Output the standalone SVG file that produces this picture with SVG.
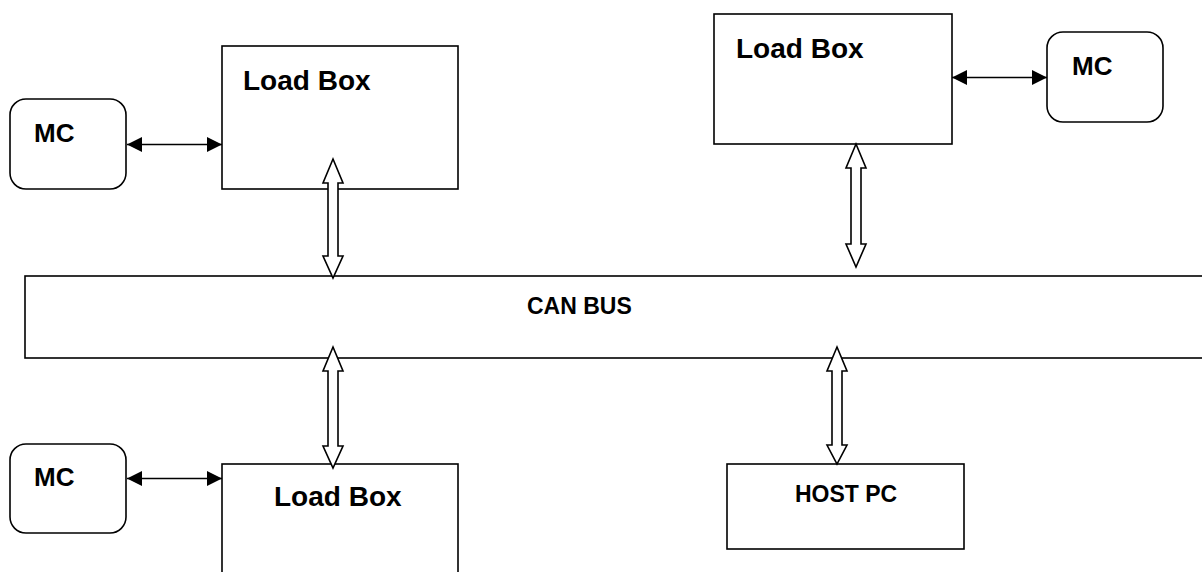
<svg xmlns="http://www.w3.org/2000/svg" width="1202" height="572" viewBox="0 0 1202 572">
<style>
.box{fill:#fff;stroke:#000;stroke-width:1.6}
.lbl{font-family:"Liberation Sans",Arial,sans-serif;font-weight:bold;fill:#000}
.big{font-size:28px}
.mc{font-size:26px}
.mid{font-size:23px}
.thin{stroke:#000;stroke-width:1.5;fill:none}
.fat{fill:#fff;stroke:#000;stroke-width:1.6;stroke-linejoin:miter}
</style>
<defs>
<marker id="ah" viewBox="0 0 15 15" refX="15" refY="7.5" markerWidth="15" markerHeight="15" markerUnits="userSpaceOnUse" orient="auto-start-reverse">
<path d="M0,0 L15,7.5 L0,15 Z" fill="#000"/>
</marker>
</defs>
<rect width="1202" height="572" fill="#fff"/>
<g id="bus">
<rect class="box" x="25" y="276" width="1190" height="82"/>
<text class="lbl mid" x="527" y="314">CAN BUS</text>
</g>
<g id="loadbox-tl">
<rect class="box" x="222" y="46" width="236" height="143"/>
<text class="lbl big" x="243" y="90">Load Box</text>
</g>
<g id="mc-tl">
<rect class="box" x="10" y="99" width="116" height="90" rx="16"/>
<text class="lbl mc" x="34" y="142">MC</text>
</g>
<g id="loadbox-tr">
<rect class="box" x="714" y="14" width="238" height="130"/>
<text class="lbl big" x="736" y="58">Load Box</text>
</g>
<g id="mc-tr">
<rect class="box" x="1047" y="32" width="116" height="90" rx="16"/>
<text class="lbl mc" x="1072" y="75">MC</text>
</g>
<g id="loadbox-bl">
<rect class="box" x="222" y="464" width="236" height="130"/>
<text class="lbl big" x="274" y="506">Load Box</text>
</g>
<g id="mc-bl">
<rect class="box" x="10" y="444" width="116" height="89" rx="16"/>
<text class="lbl mc" x="34" y="486">MC</text>
</g>
<g id="hostpc">
<rect class="box" x="727" y="464" width="237" height="85"/>
<text class="lbl mid" x="795" y="502">HOST PC</text>
</g>
<g id="connectors">
<line class="thin" x1="127" y1="144.5" x2="222" y2="144.5" marker-start="url(#ah)" marker-end="url(#ah)"/>
<line class="thin" x1="952" y1="77.5" x2="1047" y2="77.5" marker-start="url(#ah)" marker-end="url(#ah)"/>
<line class="thin" x1="127" y1="478.5" x2="222" y2="478.5" marker-start="url(#ah)" marker-end="url(#ah)"/>
<polygon class="fat" points="333,159 343,183 338,183 338,256 343,256 333,278 323,256 328,256 328,183 323,183"/>
<polygon class="fat" points="856,144 866,168 861,168 861,244 866,244 856,267 846,244 851,244 851,168 846,168"/>
<polygon class="fat" points="333,347 343,371 338,371 338,446 343,446 333,468 323,446 328,446 328,371 323,371"/>
<polygon class="fat" points="837,347 847,371 842,371 842,445 847,445 837,464 827,445 832,445 832,371 827,371"/>
</g>
</svg>
